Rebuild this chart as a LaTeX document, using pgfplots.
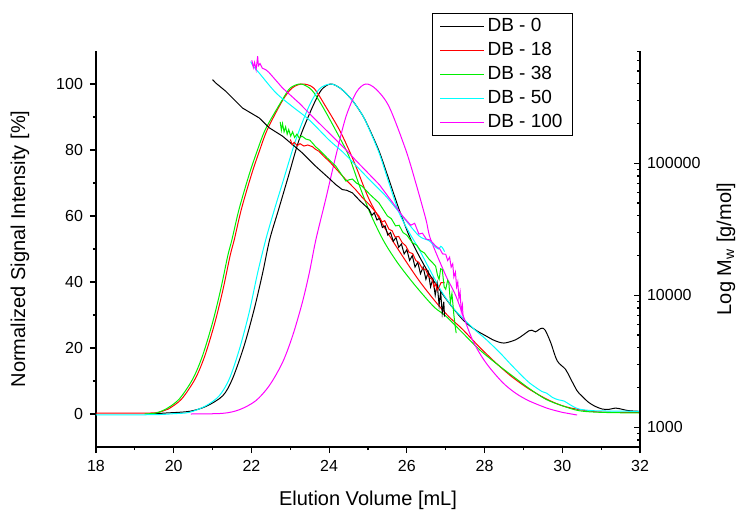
\documentclass[border=0pt]{standalone}
\usepackage{pgfplots}
\pgfplotsset{compat=1.18}
\usepackage{fontspec}
\setmainfont{Liberation Sans}

\definecolor{dbBlack}{HTML}{000000}
\definecolor{dbRed}{HTML}{FF0000}
\definecolor{dbGreen}{HTML}{00EE00}
\definecolor{dbCyan}{HTML}{00FFFF}
\definecolor{dbMagenta}{HTML}{FF00FF}

\pgfplotsset{
    sec/.style={
        width=272pt, height=198pt, scale only axis,
        xmin=18, xmax=32,
        axis line style={-, line width=0.8pt},
        tick style={line width=0.6pt, black},
        major tick length=3pt, minor tick length=1.6pt,
        tick label style={font=\fontsize{8}{9.6}\selectfont},
        /pgf/number format/assume math mode=true,
        label style={font=\fontsize{9.5}{11.4}\selectfont},
    },
    every axis plot/.append style={line width=0.5pt, mark=none},
}

\begin{document}
\begin{tikzpicture}
\path[use as bounding box] (-48pt,-31pt) rectangle (321pt,223.5pt);

% concentration traces (left axis)
\begin{axis}[sec,
    axis x line*=bottom, axis y line*=left,
    tick align=outside,
    ymin=-10, ymax=110,
    xtick={18,20,...,32}, minor x tick num=1,
    ytick={0,20,...,100}, minor y tick num=1,
    xlabel={Elution Volume [mL]},
    ylabel={Normalized Signal Intensity [\%]},
    every axis x label/.style={at={(axis description cs:0.5,-0.134)}, anchor=center},
    every axis y label/.style={at={(axis description cs:-0.14,0.5)}, rotate=90, anchor=center},
    legend style={at={(axis description cs:0.6176,1.096)}, anchor=north west,
        font=\fontsize{9.5}{11.4}\selectfont, draw=black, line width=0.6pt,
        fill=white, inner xsep=3.5pt, inner ysep=0.5pt,
        nodes={inner sep=1.5pt, text height=7pt, text depth=2pt}},
    legend cell align={left},
    legend image code/.code={\draw[#1, line width=0.5pt] (0pt,0pt) -- (22pt,0pt);},
    every axis plot/.append style={smooth, tension=0.5},
]
\addplot[dbBlack] coordinates {
(19.4,0.0) (19.8,0.3) (20.4,0.8) (20.83,2.3) (21.26,5.5) (21.51,10.6) (21.81,20.6)
(22.07,31.7) (22.29,42.8) (22.47,52.9) (22.7,62) (22.95,72) (23.23,83.2) (23.57,93) (23.8,98.2)
(24.04,100) (24.3,98.6) (24.6,95) (24.86,90.5) (25.03,86.5) (25.29,79.5) (25.54,71)
(25.8,62) (26.06,54) (26.31,48) (26.6,42) (27.0,35) (27.43,28.7) (27.75,25.6)
(28.03,23.7) (28.25,22.3) (28.5,21.5) (28.8,22.5) (29.0,24) (29.14,25.2) (29.22,25.4)
(29.31,24.9) (29.4,25.6) (29.48,26) (29.56,25.4) (29.7,21.7) (29.87,16.1) (30.08,13.6)
(30.2,11) (30.38,7.05) (30.5,5.5) (30.68,3.5) (30.85,2.3) (31.03,1.5) (31.2,1.4)
(31.37,1.8) (31.55,1.4) (31.71,1.0) (32,0.8)
};
\addplot[dbRed] coordinates {
(18,0.3) (19.4,0.3) (19.7,0.8) (19.86,1.5) (20.2,4.5) (20.55,10.6) (20.8,17.6)
(21.06,27.7) (21.27,37.8) (21.45,47.9) (21.56,52.9) (21.74,62) (22.0,72.5) (22.2,79.5) (22.41,86.2)
(22.8,95.0) (23.05,98.8) (23.31,100) (23.6,98.8) (23.91,93.2) (24.26,86.2) (24.51,80)
(24.69,75) (25.03,65) (25.45,56) (25.88,48) (26.31,40.5) (26.74,34) (27.08,29.5)
(27.43,25.7) (27.85,20.5) (28.28,15.6) (28.7,11.3) (29.14,7.6) (29.6,4.5) (30.0,2.5)
(30.4,1.4) (30.86,0.7) (31.4,0.5) (32,0.5)
};
\addplot[dbGreen] coordinates {
(19.25,0) (19.54,0.3) (19.8,1.5) (20.14,4.5) (20.49,10.6) (20.74,17.6) (21.0,27.7)
(21.21,37.8) (21.39,47.9) (21.5,52.9) (21.68,62) (21.94,72.5) (22.15,79.8) (22.37,86.5) (22.8,95.3)
(23.0,98.8) (23.27,100) (23.55,98.2) (23.83,93.2) (24.25,84.2) (24.51,78.1) (24.77,69.5)
(25.05,61) (25.4,52.5) (25.75,46) (26.14,40) (26.5,35) (26.74,32) (27.0,29.7)
(27.4,25) (27.86,19.6) (28.3,15.3) (28.71,11.6) (29.14,7.8) (29.57,4.5) (30.0,2.5)
(30.43,1.0) (31.0,0.5) (32,0.3)
};
\addplot[dbCyan] coordinates {
(18,-0.3) (19.5,-0.2) (20.0,0.1) (20.4,0.5) (20.83,2.5) (21.17,5.5) (21.43,10.6)
(21.69,19.6) (21.94,30.7) (22.16,42.8) (22.37,52.9) (22.58,61.5) (22.8,70) (23.14,83)
(23.48,93.2) (23.75,98.5) (24.04,100) (24.3,98.6) (24.6,95) (24.86,90.5) (25.03,86.3)
(25.29,79) (25.54,70) (25.8,61) (26.06,55) (26.31,50) (26.6,43.5) (26.9,37) (27.2,32)
(27.47,28.7) (27.75,25.5) (28.03,22.7) (28.4,18.5) (28.71,14.6) (29.1,10) (29.3,8.2)
(29.48,6.8) (29.6,6.3) (29.75,5) (29.9,4.3) (30.05,3.9) (30.2,2.8) (30.43,1.5)
(30.8,1.0) (31.2,0.9) (32,0.8)
};
\addplot[dbMagenta] coordinates {
(20.44,0) (21.26,0.2) (21.69,1.3) (22.11,4) (22.46,8.6) (22.8,15.6) (23.06,23.7)
(23.31,33.8) (23.49,42.8) (23.66,52.9) (23.91,65) (24.17,78.1) (24.43,90) (24.7,97.5)
(24.94,100) (25.2,98.5) (25.54,93.2) (25.97,80.1) (26.23,70) (26.49,59) (26.61,53)
(27.0,42) (27.26,35.8) (27.68,22.7) (28.03,15.6) (28.46,9.6) (28.8,6.3) (29.14,4.0)
(29.6,1.8) (29.9,0.8) (30.0,0.5) (30.38,-0.3)
};
\legend{DB - 0, DB - 18, DB - 38, DB - 50, DB - 100}
\end{axis}

% molar mass traces, log10(Mw) (right axis)
\begin{axis}[sec,
    axis x line=none, axis y line*=right,
    ytick align=inside,
    ymin=2.85, ymax=5.85,
    ytick={3,4,5}, yticklabels={1000,10000,100000},
    minor ytick={2.903,2.954,3.301,3.477,3.602,3.699,3.778,3.845,3.903,3.954,
        4.301,4.477,4.602,4.699,4.778,4.845,4.903,4.954,
        5.301,5.477,5.602,5.699,5.778,5.845},
    ylabel={Log M\textsubscript{w} [g/mol]},
    every axis y label/.style={at={(axis description cs:1.158,0.5)}, rotate=90, anchor=center},
]
\addplot[dbBlack] coordinates {
(21.00,5.633) (21.08,5.608) (21.34,5.545) (21.77,5.418) (22.20,5.343) (22.46,5.268)
(22.80,5.205) (23.31,5.078) (23.65,4.978) (24.00,4.885) (24.17,4.838) (24.34,4.800)
(24.45,4.795) (24.60,4.775) (24.80,4.713) (25.03,4.650) (25.10,4.605) (25.16,4.625)
(25.23,4.570) (25.30,4.583) (25.37,4.513) (25.44,4.525) (25.51,4.455) (25.58,4.475)
(25.65,4.408) (25.72,4.438) (25.79,4.363) (25.86,4.388) (25.93,4.313) (26.00,4.345)
(26.07,4.263) (26.14,4.300) (26.21,4.213) (26.28,4.250) (26.35,4.163) (26.42,4.213)
(26.49,4.120) (26.55,4.175) (26.61,4.063) (26.67,4.125) (26.73,4.000) (26.78,4.088)
(26.83,3.925) (26.87,4.025) (26.91,3.863) (26.95,3.950) (26.97,3.838)
};
\addplot[dbRed] coordinates {
(23.00,5.180) (23.05,5.140) (23.10,5.158) (23.18,5.133) (23.25,5.148) (23.35,5.130)
(23.45,5.138) (23.57,5.125) (23.65,5.105) (23.74,5.090) (23.87,5.050) (24.00,5.015)
(24.20,4.950) (24.43,4.875) (24.68,4.800) (24.86,4.738) (25.03,4.688) (25.28,4.600)
(25.36,4.555) (25.43,4.565) (25.54,4.500) (25.62,4.488) (25.70,4.440) (25.79,4.445)
(25.88,4.398) (25.97,4.375) (26.06,4.325) (26.15,4.315) (26.23,4.263) (26.31,4.248)
(26.40,4.200) (26.48,4.195) (26.57,4.138) (26.65,4.120) (26.70,4.063) (26.74,4.088)
(26.78,4.038) (26.83,4.063) (26.88,4.095) (26.97,4.095)
};
\addplot[dbGreen] coordinates {
(22.74,5.313) (22.77,5.250) (22.80,5.300) (22.84,5.238) (22.88,5.275) (22.92,5.220)
(22.96,5.255) (23.01,5.205) (23.06,5.238) (23.11,5.195) (23.17,5.220) (23.23,5.190)
(23.30,5.205) (23.40,5.183) (23.50,5.175) (23.57,5.153) (23.65,5.125) (23.74,5.103)
(23.95,5.040) (24.17,4.978) (24.35,4.900) (24.43,4.865) (24.52,4.875) (24.60,4.880)
(24.70,4.850) (24.85,4.825) (25.05,4.763) (25.28,4.700) (25.50,4.600) (25.60,4.580)
(25.71,4.525) (25.80,4.530) (25.90,4.475) (26.00,4.455) (26.14,4.398) (26.25,4.380)
(26.35,4.338) (26.45,4.320) (26.57,4.273) (26.65,4.250) (26.74,4.220) (26.79,4.150)
(26.83,4.120) (26.87,4.200) (26.91,4.195) (26.96,4.063) (27.00,4.045) (27.05,4.113)
(27.08,4.095) (27.12,3.945) (27.16,4.013) (27.21,3.850) (27.25,3.750) (27.27,3.713)
};
\addplot[dbCyan, smooth, tension=0.5] coordinates {
(21.98,5.770) (22.04,5.738) (22.20,5.683) (22.63,5.533) (23.05,5.430) (23.48,5.330)
(24.00,5.175) (24.34,5.088) (24.51,5.038) (25.03,4.878) (25.46,4.750) (25.88,4.600)
(26.31,4.450) (26.57,4.413) (26.74,4.365) (26.82,4.350) (26.87,4.370) (26.92,4.358)
(26.97,4.330)
};
\addplot[dbMagenta] coordinates {
(22.01,5.780) (22.05,5.725) (22.08,5.763) (22.12,5.708) (22.16,5.810) (22.18,5.738)
(22.22,5.755) (22.28,5.720) (22.37,5.708) (22.45,5.688) (22.54,5.658) (22.80,5.570)
(23.23,5.455) (23.65,5.330) (24.08,5.205) (24.51,5.078) (24.69,5.020) (25.29,4.838)
(25.89,4.600) (26.10,4.530) (26.20,4.545) (26.31,4.463) (26.40,4.470) (26.50,4.425)
(26.60,4.418) (26.74,4.373) (26.85,4.350) (26.92,4.313) (27.00,4.310) (27.05,4.263)
(27.10,4.288) (27.14,4.213) (27.18,4.238) (27.21,4.138) (27.25,4.175) (27.28,4.063)
(27.31,4.100) (27.34,3.975) (27.37,4.025) (27.40,3.875) (27.43,3.925) (27.45,3.813)
};
\end{axis}
\end{tikzpicture}
\end{document}
